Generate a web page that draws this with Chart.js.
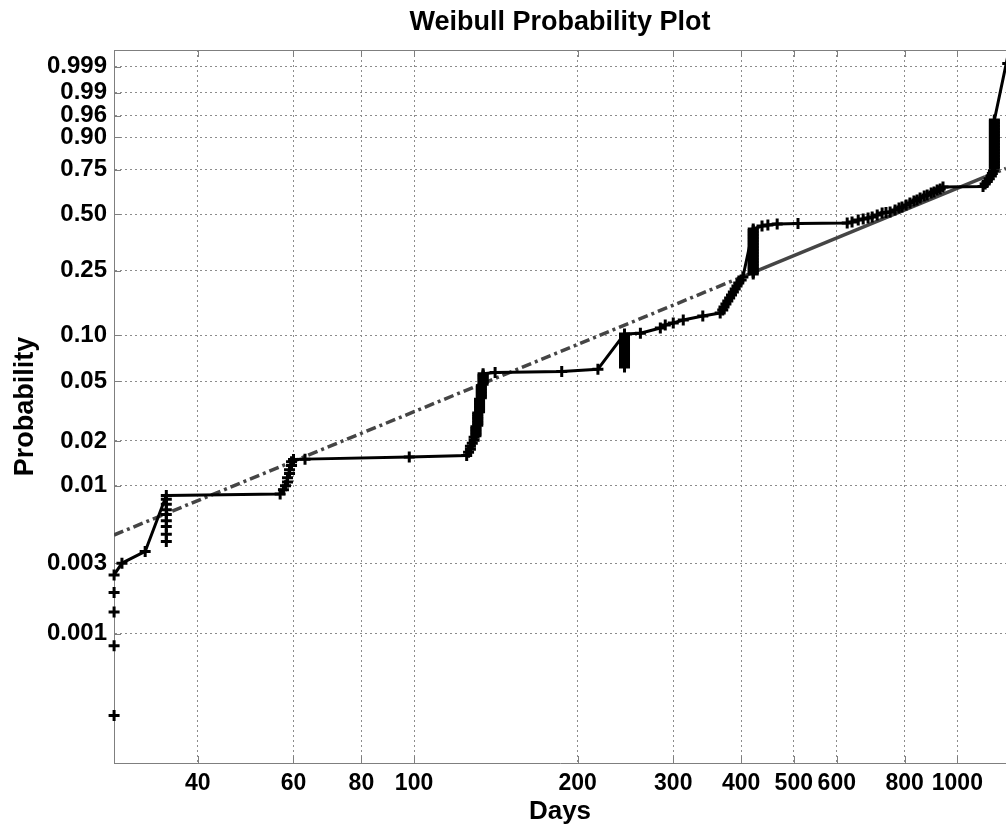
<!DOCTYPE html>
<html>
<head>
<meta charset="utf-8">
<title>Weibull Probability Plot</title>
<script src="https://cdn.jsdelivr.net/npm/chart.js@4.4.1/dist/chart.umd.min.js"></script>
<style>
  html, body { margin: 0; padding: 0; background: #fff; }
  #wrap { width: 1006px; height: 832px; }
</style>
</head>
<body>
<div id="wrap"><canvas id="weibullChart" width="1006" height="832"></canvas></div>
<script>
// failure times (days) and their plotting positions
const failureDays = [
  28.05, 28.05, 28.05, 28.05, 28.05, 29, 32,
  35, 35, 35, 35, 35, 35, 35, 35, 35,
  56.7, 57.5, 58, 58.5, 58.5, 59, 59, 59.5, 59.5, 60, 63, 98,
  125, 126, 127, 127, 128, 129, 129,
  130, 130, 130, 130, 130, 130, 130,
  131, 131, 131, 131, 131, 131, 131, 131, 131,
  132, 132, 132, 132, 132, 132, 132, 132, 132,
  133, 133, 133, 133, 133, 133, 133, 133, 133,
  134, 134, 134, 134, 134, 134, 134, 134,
  141, 187, 218,
  244, 244, 244, 244, 244, 244, 244, 244, 244, 244, 244, 244,
  244, 244, 244, 244, 244, 244, 244, 244, 244, 244, 244,
  261, 284, 290, 300, 313, 340, 366,
  370, 372, 375, 378, 381, 384, 387, 390, 393, 396, 400, 403,
  421, 421, 421, 421, 421, 421, 421, 421, 421, 421, 421, 421, 421, 421, 421, 421,
  421, 421, 421, 421, 421, 421, 421, 421, 421, 421, 421, 421, 421, 421, 421,
  437, 448, 466, 509, 627,
  640, 657, 671, 685, 697, 712, 727, 739, 752, 768, 781, 791,
  805, 818, 832, 843, 854, 869, 880, 895, 906, 918, 930, 941,
  1115, 1125, 1135, 1145, 1155, 1160, 1165,
  1170, 1170, 1170, 1170, 1170, 1170, 1170, 1170, 1170, 1170, 1170, 1170, 1170, 1170, 1170, 1170, 1170,
  1170, 1170, 1170, 1170, 1170, 1170, 1170, 1170, 1170, 1170, 1170, 1170, 1170, 1170, 1170, 1170,
  1238, 1238
];

const failureProb = [
  0.00028, 0.00083, 0.0014, 0.0019, 0.0025, 0.0030, 0.0036,
  0.0042, 0.0047, 0.0053, 0.0058, 0.0064, 0.0069, 0.0075, 0.0081, 0.0086,
  0.0088, 0.0094, 0.0100, 0.0106, 0.0113, 0.0121, 0.0128, 0.0137, 0.0145, 0.0150, 0.0151, 0.0156,
  0.0160, 0.0168, 0.0176, 0.0184, 0.0193, 0.0202, 0.0212,
  0.0217, 0.0222, 0.0227, 0.0232, 0.0238, 0.0243, 0.0249,
  0.0255, 0.0261, 0.0267, 0.0273, 0.0280, 0.0286, 0.0293, 0.0300, 0.0307,
  0.0314, 0.0322, 0.0329, 0.0337, 0.0345, 0.0353, 0.0361, 0.0370, 0.0379,
  0.0388, 0.0397, 0.0406, 0.0416, 0.0426, 0.0436, 0.0446, 0.0456, 0.0467,
  0.0478, 0.0490, 0.0501, 0.0513, 0.0525, 0.0537, 0.0548, 0.0560,
  0.0570, 0.0580, 0.0600,
  0.0620, 0.0634, 0.0649, 0.0664, 0.0679, 0.0694, 0.0710, 0.0726, 0.0743, 0.0760, 0.0777, 0.0795,
  0.0813, 0.0831, 0.0850, 0.0869, 0.0889, 0.0909, 0.0929, 0.0950, 0.0971, 0.0993, 0.1016,
  0.1026, 0.1109, 0.1158, 0.1193, 0.1246, 0.1321, 0.1380,
  0.1441, 0.1504, 0.1570, 0.1639, 0.1711, 0.1785, 0.1862, 0.1941, 0.2025, 0.2110, 0.2200, 0.2292,
  0.2387, 0.2436, 0.2486, 0.2537, 0.2588, 0.2641, 0.2694, 0.2748, 0.2803, 0.2859, 0.2915, 0.2973, 0.3031, 0.3090, 0.3150, 0.3211,
  0.3273, 0.3336, 0.3400, 0.3465, 0.3530, 0.3596, 0.3663, 0.3731, 0.3800, 0.3870, 0.3940, 0.4012, 0.4084, 0.4157, 0.4231,
  0.4381, 0.4430, 0.4480, 0.4505, 0.4533,
  0.4585, 0.4690, 0.4742, 0.4795, 0.4848, 0.4955, 0.5063, 0.5090, 0.5117, 0.5227, 0.5338, 0.5393,
  0.5505, 0.5618, 0.5730, 0.5787, 0.5901, 0.6015, 0.6072, 0.6187, 0.6244, 0.6359, 0.6416, 0.6531,
  0.6560, 0.6700, 0.6850, 0.7000, 0.7150, 0.7300, 0.7450,
  0.7592, 0.7671, 0.7750, 0.7828, 0.7905, 0.7981, 0.8057, 0.8130, 0.8203, 0.8274, 0.8345, 0.8414, 0.8482, 0.8548, 0.8613, 0.8676, 0.8738,
  0.8798, 0.8857, 0.8914, 0.8970, 0.9023, 0.9076, 0.9126, 0.9176, 0.9222, 0.9268, 0.9311, 0.9354, 0.9394, 0.9434, 0.9471, 0.9507,
  0.9993, 0.9997
];

// reference line: dash-dot, solid between the two middle points, dash-dot again
const fitDays = [28.04, 403, 1124, 1229];
const fitProb = [0.00465, 0.2306, 0.7099, 0.757];

const dayTicks = [40, 60, 80, 100, 200, 300, 400, 500, 600, 800, 1000];
const probTicks = [0.001, 0.003, 0.01, 0.02, 0.05, 0.10, 0.25, 0.50, 0.75, 0.90, 0.96, 0.99, 0.999];
const probTickLabels = ["0.001", "0.003", "0.01", "0.02", "0.05", "0.10", "0.25", "0.50", "0.75", "0.90", "0.96", "0.99", "0.999"];

const X_MIN = 28.04;
const X_MAX = 1229;
const Y_MIN = -8.923; // weibull-scale limits of the axes
const Y_MAX = 2.193;

const FONT = "'Liberation Sans', Arial, Helvetica, sans-serif";
const AXIS_GRAY = "#7f7f7f";
const GRID_GRAY = "#8c8c8c";

function weib(p) {
  return Math.log(-Math.log(1 - p));
}

const points = failureDays.map((d, i) => ({ x: d, y: weib(failureProb[i]) }));

// solid line goes through the top point of each distinct day
const steps = [];
failureDays.forEach((d, i) => {
  if (i === failureDays.length - 1 || failureDays[i + 1] !== d) {
    steps.push({ x: d, y: weib(failureProb[i]) });
  }
});

const fitLine = fitDays.map((d, i) => ({ x: d, y: weib(fitProb[i]) }));

const framePlugin = {
  id: "frame",
  beforeDatasetsDraw(chart) {
    const { ctx, chartArea: a, scales } = chart;
    ctx.save();
    ctx.strokeStyle = AXIS_GRAY;
    ctx.lineWidth = 1;
    ctx.beginPath();
    ctx.moveTo(a.left, a.top + 0.5);
    ctx.lineTo(a.right, a.top + 0.5);
    scales.x.ticks.forEach((t) => {
      const px = Math.round(scales.x.getPixelForValue(t.value)) + 0.5;
      ctx.moveTo(px, a.bottom);
      ctx.lineTo(px, a.bottom - 7);
      ctx.moveTo(px, a.top);
      ctx.lineTo(px, a.top + 7);
    });
    scales.y.ticks.forEach((t) => {
      const py = Math.round(scales.y.getPixelForValue(t.value)) + 0.5;
      ctx.moveTo(a.left, py);
      ctx.lineTo(a.left + 7, py);
    });
    ctx.stroke();
    ctx.restore();
  }
};

new Chart(document.getElementById("weibullChart"), {
  type: "scatter",
  data: {
    datasets: [
      {
        label: "Data",
        data: points,
        showLine: false,
        pointStyle: "cross",
        pointRadius: 5.5,
        pointBorderWidth: 3,
        borderColor: "#000",
        backgroundColor: "#000",
        clip: false,
        order: 1
      },
      {
        label: "Empirical",
        data: steps,
        showLine: true,
        borderColor: "#000",
        borderWidth: 3,
        borderJoinStyle: "round",
        pointRadius: 0,
        clip: false,
        order: 2
      },
      {
        label: "Fit",
        data: fitLine,
        showLine: true,
        borderColor: "#454545",
        borderWidth: 3.5,
        pointRadius: 0,
        segment: {
          borderDash: (c) => (c.p0DataIndex === 1 ? [] : [10, 4, 3, 4])
        },
        order: 3
      }
    ]
  },
  options: {
    responsive: false,
    animation: false,
    events: [],
    layout: { padding: 0, autoPadding: false },
    plugins: {
      legend: { display: false },
      tooltip: { enabled: false },
      title: {
        display: true,
        fullSize: false,
        text: "Weibull Probability Plot",
        color: "#000",
        font: { family: FONT, size: 27, weight: "bold" },
        padding: { top: 6, bottom: 11.6 }
      }
    },
    scales: {
      x: {
        type: "logarithmic",
        min: X_MIN,
        max: X_MAX,
        afterBuildTicks: (scale) => {
          scale.ticks = dayTicks.map((v) => ({ value: v }));
        },
        afterFit: (scale) => {
          scale.height = 69;
          scale.paddingLeft = 0;
          scale.paddingRight = 0;
        },
        ticks: {
          autoSkip: false,
          maxRotation: 0,
          color: "#000",
          padding: 7,
          font: { family: FONT, size: 23, weight: "bold" },
          callback: (v) => String(v)
        },
        grid: { color: GRID_GRAY, lineWidth: 1, drawTicks: false },
        border: { display: true, color: AXIS_GRAY, width: 1, dash: [2, 3] },
        title: {
          display: true,
          text: "Days",
          color: "#000",
          font: { family: FONT, size: 26, weight: "bold" },
          padding: { top: 0, bottom: 5 }
        }
      },
      y: {
        type: "linear",
        min: Y_MIN,
        max: Y_MAX,
        afterBuildTicks: (scale) => {
          scale.ticks = probTicks.map((p) => ({ value: weib(p) }));
        },
        afterFit: (scale) => {
          scale.width = 114;
          scale.paddingTop = 0;
          scale.paddingBottom = 0;
        },
        ticks: {
          autoSkip: false,
          color: "#000",
          padding: 7,
          font: { family: FONT, size: 24, weight: "bold" },
          callback: (v, i) => probTickLabels[i]
        },
        grid: { color: GRID_GRAY, lineWidth: 1, drawTicks: false },
        border: { display: true, color: AXIS_GRAY, width: 1, dash: [2, 3] },
        title: {
          display: true,
          text: "Probability",
          color: "#000",
          font: { family: FONT, size: 27, weight: "bold" },
          padding: { top: 9, bottom: 0 }
        }
      }
    }
  },
  plugins: [framePlugin]
});
</script>
</body>
</html>
